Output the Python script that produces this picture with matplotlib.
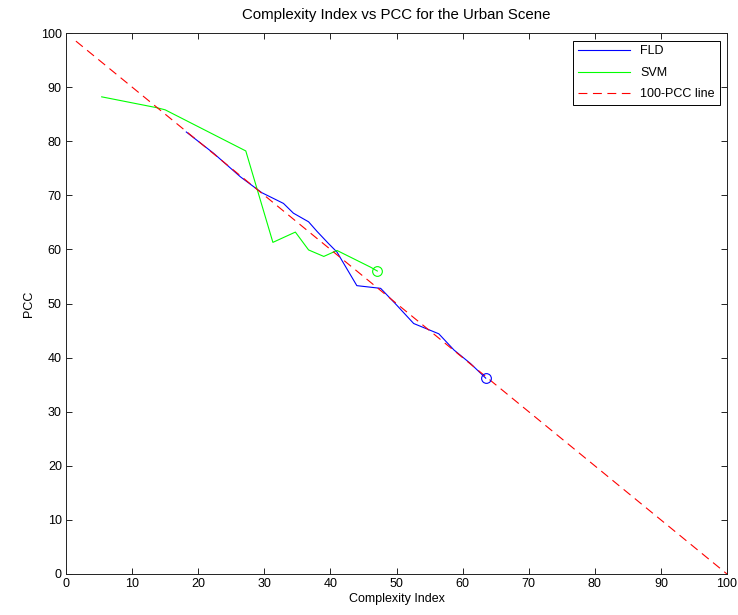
import matplotlib
matplotlib.use("Agg")
import matplotlib.pyplot as plt

# FLD curve (complexity index, PCC)
fld_x = [18.2, 22.3, 26.4, 29.6, 32.9, 34.4, 36.7, 38.0, 39.7, 41.0, 44.0,
         47.6, 49.8, 52.6, 54.4, 56.4, 58.7, 61.2, 63.5]
fld_y = [81.7, 77.8, 73.4, 70.5, 68.5, 66.7, 65.1, 63.3, 61.1, 59.5, 53.3,
         52.8, 50.0, 46.3, 45.4, 44.4, 41.4, 38.9, 36.2]

# SVM curve
svm_x = [5.4, 13.7, 15.0, 27.2, 31.3, 34.7, 36.7, 39.0, 41.0, 46.1, 47.1]
svm_y = [88.2, 86.2, 85.8, 78.2, 61.3, 63.2, 59.9, 58.7, 59.8, 56.7, 56.0]

# reference line 100 - PCC
ref_x = [1.5, 100]
ref_y = [98.5, 0]

plt.rcParams['font.family'] = ['Liberation Sans', 'DejaVu Sans']
plt.rcParams['font.size'] = 9

fig = plt.figure(figsize=(7.38, 6.15), dpi=100, facecolor='white')
ax = fig.add_axes([66/738, 41/615, 661/738, 541/615])

ax.plot(fld_x, fld_y, color='blue', lw=0.8, label='FLD')
ax.plot(svm_x, svm_y, color='#00ff00', lw=0.8, label='SVM')
ax.plot(ref_x, ref_y, color='red', lw=0.8, ls=(0, (8, 5)), label='100-PCC line')
ax.plot(fld_x[-1], fld_y[-1], 'o', mfc='none', mec='blue', ms=7, mew=0.8)
ax.plot(svm_x[-1], svm_y[-1], 'o', mfc='none', mec='#00ff00', ms=7, mew=0.8)

ax.set_xlim(0, 100)
ax.set_ylim(0, 100)
ax.set_xticks(range(0, 101, 10))
ax.set_yticks(range(0, 101, 10))
ax.tick_params(direction='in', top=True, right=True, length=4, width=0.6, pad=3)
for s in ax.spines.values():
    s.set_linewidth(0.7)
    s.set_color('#222222')

ax.set_xlabel('Complexity Index', labelpad=2)
ax.set_ylabel('PCC', labelpad=4)
ax.set_title('Complexity Index vs PCC for the Urban Scene', pad=10)

leg = ax.legend(loc='upper right', fancybox=False, edgecolor='black',
                framealpha=1, handlelength=4.2, labelspacing=0.75,
                borderaxespad=0.6)
leg.get_frame().set_linewidth(0.7)

fig.savefig('out.png', dpi=100, facecolor='white')
